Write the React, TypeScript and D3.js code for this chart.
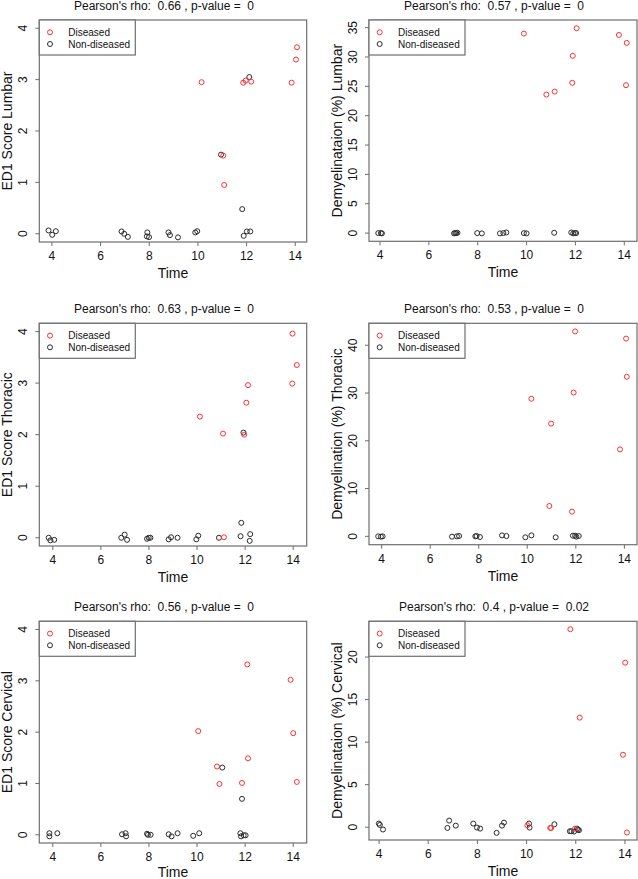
import React, { useEffect } from 'react';
import * as d3 from 'd3';

// ---------- data ----------
const timeTicks = [4, 6, 8, 10, 12, 14];
const ed1Ticks = [0, 1, 2, 3, 4];
const demyLumbarTicks = [0, 5, 10, 15, 20, 25, 30, 35];
const demyThoracicTicks = [0, 10, 20, 30, 40];
const demyCervicalTicks = [0, 5, 10, 15, 20];

const legendLabels = ['Diseased', 'Non-diseased'];

const titles = [
  "Pearson's rho:  0.66 , p-value =  0",
  "Pearson's rho:  0.57 , p-value =  0",
  "Pearson's rho:  0.63 , p-value =  0",
  "Pearson's rho:  0.53 , p-value =  0",
  "Pearson's rho:  0.56 , p-value =  0",
  "Pearson's rho:  0.4 , p-value =  0.02",
];

const yLabels = [
  'ED1 Score Lumbar',
  'Demyelinataion (%) Lumbar',
  'ED1 Score Thoracic',
  'Demyelination (%) Thoracic',
  'ED1 Score Cervical',
  'Demyelinataion (%) Cervical',
];

// [time, value]
const ed1LumbarDiseased = [
  [10.15, 2.95], [11.04, 1.52], [11.08, 0.95], [11.86, 2.94], [11.96, 2.98],
  [12.19, 2.96], [13.85, 2.94], [14.03, 3.39], [14.07, 3.63],
];
const ed1LumbarNon = [
  [3.86, 0.065], [4.01, -0.02], [4.16, 0.05], [6.86, 0.045], [6.97, 0.0], [7.12, -0.06],
  [7.92, 0.026], [7.9, -0.05], [7.99, -0.065], [8.79, 0.026], [8.85, -0.026], [9.18, -0.07],
  [9.89, 0.026], [9.97, 0.05], [10.95, 1.54], [11.82, 0.48], [11.88, -0.04], [12.01, 0.045],
  [12.15, 0.045], [12.11, 3.05],
];

const demyLumbarDiseased = [
  [9.89, 33.98], [10.81, 23.6], [11.15, 24.1], [11.87, 25.6], [11.89, 30.2],
  [12.05, 34.9], [13.78, 33.75], [14.1, 32.4], [14.07, 25.2],
];
const demyLumbarNon = [
  [3.93, 0.0], [4.04, 0.0], [4.08, -0.05], [7.03, -0.05], [7.08, 0.0], [7.12, 0.0], [7.17, 0.05],
  [7.98, 0.0], [8.17, -0.05], [8.91, -0.05], [9.05, 0.0], [9.17, 0.1], [9.89, 0.0], [10.0, -0.05],
  [11.13, 0.05], [11.83, 0.1], [11.91, -0.05], [11.98, 0.0], [12.03, 0.0],
];

const ed1ThoracicDiseased = [
  [10.12, 2.35], [11.08, 2.02], [11.12, 0.01], [11.96, 2.0], [12.05, 2.62],
  [12.12, 2.96], [13.96, 2.99], [13.97, 3.96], [14.15, 3.35],
];
const ed1ThoracicNon = [
  [3.83, 0.0], [3.9, -0.05], [4.06, -0.04], [6.85, 0.0], [6.99, 0.06], [7.09, -0.04],
  [7.92, -0.02], [7.99, 0.0], [8.06, 0.0], [8.82, -0.03], [8.92, 0.01], [9.19, 0.0],
  [9.97, -0.03], [10.05, 0.04], [10.91, 0.0], [11.93, 2.04], [11.84, 0.29], [11.81, 0.03],
  [12.21, 0.07], [12.19, -0.06],
];

const demyThoracicDiseased = [
  [10.17, 28.8], [10.98, 23.6], [10.91, 6.36], [11.97, 42.9], [11.91, 30.1],
  [11.84, 5.17], [13.82, 18.2], [14.07, 41.4], [14.1, 33.4],
];
const demyThoracicNon = [
  [3.86, 0.0], [3.97, -0.07], [4.04, 0.0], [6.9, -0.07], [7.1, 0.0], [7.19, 0.07],
  [7.86, 0.0], [7.91, 0.07], [8.05, -0.14], [8.96, 0.2], [9.14, 0.07], [9.92, -0.2],
  [10.17, 0.2], [11.17, -0.2], [11.88, 0.14], [11.97, 0.14], [12.02, -0.07], [12.12, 0.07],
];

const ed1CervicalDiseased = [
  [10.05, 2.02], [10.83, 1.33], [10.93, 0.99], [11.87, 1.01], [12.09, 3.32],
  [12.12, 1.49], [13.89, 3.02], [14.0, 1.98], [14.15, 1.03],
];
const ed1CervicalNon = [
  [3.86, 0.03], [3.86, -0.03], [4.19, 0.03], [6.88, 0.01], [7.03, 0.03], [7.05, -0.03],
  [7.92, 0.02], [7.96, 0.0], [8.07, 0.0], [8.82, 0.01], [8.94, -0.03], [9.19, 0.03],
  [9.84, -0.02], [10.09, 0.03], [11.05, 1.31], [11.87, 0.7], [11.8, 0.03], [11.83, -0.03],
  [11.94, -0.01], [12.02, -0.01],
];

const demyCervicalDiseased = [
  [11.78, 23.27], [14.01, 19.34], [12.16, 12.88], [13.92, 8.52], [14.08, -0.62],
  [10.03, 0.23], [10.96, -0.08], [11.0, -0.08], [11.97, -0.16],
];
const demyCervicalNon = [
  [3.99, 0.43], [4.03, 0.27], [4.16, -0.27], [6.78, -0.08], [6.85, 0.78], [7.12, 0.19],
  [7.83, 0.43], [7.98, -0.04], [8.11, -0.16], [8.78, -0.66], [9.0, 0.19], [9.08, 0.54],
  [10.1, 0.43], [10.12, -0.04], [11.13, 0.35], [11.76, -0.47], [11.82, -0.47], [11.93, -0.51],
  [12.05, -0.16], [12.09, -0.27], [12.13, -0.35],
];

// ---------- layout ----------
const W = 638;
const H = 879;
const FONT = "'Liberation Sans', Arial, Helvetica, sans-serif";
const RED = '#ff3030';
const DARK = '#2a2a2a';
const FRAME = '#6e6e6e';

type Panel = {
  title: string;
  ylabel: string;
  diseased: number[][];
  non: number[][];
  yTicks: number[];
  box: [number, number, number, number]; // x0, x1, y0, y1
  xDomain: [number, number];
  yDomain: [number, number];
};

const panels: Panel[] = [
  { title: titles[0], ylabel: yLabels[0], diseased: ed1LumbarDiseased, non: ed1LumbarNon, yTicks: ed1Ticks,
    box: [39.3, 306.7, 20, 242], xDomain: [3.48, 14.47], yDomain: [-0.16, 4.16] },
  { title: titles[1], ylabel: yLabels[1], diseased: demyLumbarDiseased, non: demyLumbarNon, yTicks: demyLumbarTicks,
    box: [369, 637, 20, 241.3], xDomain: [3.55, 14.52], yDomain: [-1.4, 36.3] },
  { title: titles[2], ylabel: yLabels[2], diseased: ed1ThoracicDiseased, non: ed1ThoracicNon, yTicks: ed1Ticks,
    box: [39.3, 306.7, 323.3, 546], xDomain: [3.44, 14.56], yDomain: [-0.16, 4.16] },
  { title: titles[3], ylabel: yLabels[3], diseased: demyThoracicDiseased, non: demyThoracicNon, yTicks: demyThoracicTicks,
    box: [369, 637, 323.3, 544.7], xDomain: [3.48, 14.52], yDomain: [-1.75, 44.6] },
  { title: titles[4], ylabel: yLabels[4], diseased: ed1CervicalDiseased, non: ed1CervicalNon, yTicks: ed1Ticks,
    box: [39.3, 306.7, 621.3, 843], xDomain: [3.44, 14.56], yDomain: [-0.16, 4.16] },
  { title: titles[5], ylabel: yLabels[5], diseased: demyCervicalDiseased, non: demyCervicalNon, yTicks: demyCervicalTicks,
    box: [369, 637, 621.3, 840], xDomain: [3.59, 14.49], yDomain: [-1.5, 24.2] },
];

function PanelView({ p }: { p: Panel }) {
  const [x0, x1, y0, y1] = p.box;
  const x = d3.scaleLinear().domain(p.xDomain).range([x0, x1]);
  const y = d3.scaleLinear().domain(p.yDomain).range([y1, y0]);
  const cx = (x0 + x1) / 2;
  const cy = (y0 + y1) / 2;
  const lgW = 96;
  const lgH = 35;
  const timeY = Math.min(y1 + 36, H - 2.5);
  return (
    <g>
      <text x={cx - 9} y={y0 - 10} textAnchor="middle" fontSize={12} fill="#111" style={{ whiteSpace: 'pre' }}>
        {p.title}
      </text>
      <rect x={x0} y={y0} width={x1 - x0} height={y1 - y0} fill="none" stroke={FRAME} strokeWidth={1.2} />
      {timeTicks.map((t) => (
        <g key={'xt' + t}>
          <line x1={x(t)} x2={x(t)} y1={y1} y2={y1 + 4} stroke={FRAME} strokeWidth={1} />
          <text x={x(t)} y={y1 + 18} textAnchor="middle" fontSize={12} fill="#111">{t}</text>
        </g>
      ))}
      {p.yTicks.map((t) => (
        <g key={'yt' + t}>
          <line x1={x0} x2={x0 - 4} y1={y(t)} y2={y(t)} stroke={FRAME} strokeWidth={1} />
          <text transform={`translate(${x0 - 12},${y(t)}) rotate(-90)`} textAnchor="middle" fontSize={12} fill="#111">{t}</text>
        </g>
      ))}
      <text x={cx} y={timeY} textAnchor="middle" fontSize={14} fill="#111">Time</text>
      <text transform={`translate(${x0 - 27.5},${cy}) rotate(-90)`} textAnchor="middle" fontSize={14} fill="#111">
        {p.ylabel}
      </text>
      {p.non.map((d, i) => (
        <circle key={'n' + i} cx={x(d[0])} cy={y(d[1])} r={2.5} fill="none" stroke={DARK} strokeWidth={1} />
      ))}
      {p.diseased.map((d, i) => (
        <circle key={'d' + i} cx={x(d[0])} cy={y(d[1])} r={2.5} fill="none" stroke={RED} strokeWidth={1} />
      ))}
      <rect x={x0} y={y0} width={lgW} height={lgH} fill="white" stroke={FRAME} strokeWidth={1.2} />
      {legendLabels.map((l, i) => (
        <g key={l}>
          <circle cx={x0 + 10.7} cy={y0 + 12.3 + i * 11.7} r={2.5} fill="none" stroke={i === 0 ? RED : DARK} strokeWidth={1} />
          <text x={x0 + 29} y={y0 + 12.3 + i * 11.7 + 3.6} fontSize={10} fill="#111">{l}</text>
        </g>
      ))}
    </g>
  );
}

export default function App() {
  useEffect(() => {
    document.body.style.margin = '0';
  }, []);
  return (
    <svg width={W} height={H} style={{ display: 'block', position: 'absolute', left: 0, top: 0, background: 'white' }}
      fontFamily={FONT}>
      <rect x={0} y={0} width={W} height={H} fill="white" />
      {panels.map((p, i) => <PanelView key={i} p={p} />)}
    </svg>
  );
}
